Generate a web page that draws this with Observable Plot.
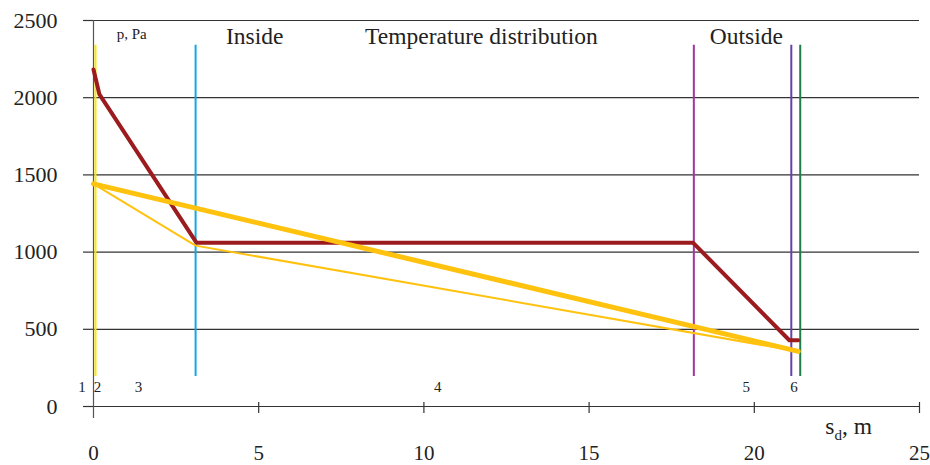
<!DOCTYPE html>
<html>
<head>
<meta charset="utf-8">
<script src="https://cdn.jsdelivr.net/npm/d3@7"></script>
<script src="https://cdn.jsdelivr.net/npm/@observablehq/plot@0.6"></script>
<style>
  html, body { margin: 0; padding: 0; background: #fff; }
  #chart svg { display: block; }
  #chart svg text { font-family: "Liberation Serif", "Times New Roman", serif !important; font-variant-numeric: normal !important; }
</style>
</head>
<body>
<div id="chart"></div>
<script>
// ---- data ----
const yTicks = [0, 500, 1000, 1500, 2000, 2500];
const xTicks = [0, 5, 10, 15, 20, 25];

// dark red profile
const redS = [0, 0.18, 3.12, 18.15, 21.06, 21.33];
const redP = [2183, 2021, 1060, 1060, 429, 429];

// thick yellow profile
const thickS = [0, 21.33];
const thickP = [1442, 357];

// thin yellow profile
const thinS = [0, 3.09, 21.33];
const thinP = [1442, 1042, 357];

// vertical boundary lines
const boundaryS = [0.06, 3.09, 18.17, 21.12, 21.39];
const boundaryColors = ["#ffe600", "#12a9e1", "#a2359e", "#6a3fa8", "#1f7d4b"];
const boundaryLow = 195, boundaryHigh = 2340;

// section numbers
const sectionNames = ["1", "2", "3", "4", "5", "6"];
const sectionS = [-0.35, 0.12, 1.36, 10.42, 19.76, 21.2];
const sectionP = 91;

// region labels
const regionNames = ["Inside", "Temperature distribution", "Outside"];
const regionS = [4.88, 11.74, 19.76];
const regionP = 2345;

const unitLabel = "p, Pa";
const unitS = 0.70, unitP = 2383;

const xLabelS = 22.15, xLabelP = -175;

// ---- build tables ----
const red = redS.map((s, i) => ({s, p: redP[i]}));
const thick = thickS.map((s, i) => ({s, p: thickP[i]}));
const thin = thinS.map((s, i) => ({s, p: thinP[i]}));
const bounds = boundaryS.map((s, i) => ({s, c: boundaryColors[i]}));
const sections = sectionNames.map((t, i) => ({t, s: sectionS[i]}));
const regions = regionNames.map((t, i) => ({t, s: regionS[i]}));

const font = "Liberation Serif, Times New Roman, serif";

const chart = Plot.plot({
  width: 930,
  height: 465,
  marginLeft: 93,
  marginRight: 11,
  marginTop: 20,
  marginBottom: 59,
  style: {fontFamily: font, fontSize: "22px", color: "#222", background: "#fff"},
  x: {domain: [0, 25], axis: null},
  y: {domain: [0, 2500], axis: null},
  marks: [
    Plot.gridY(yTicks, {stroke: "#333", strokeOpacity: 1, strokeWidth: 1.2}),
    Plot.axisY(yTicks, {tickSize: 10, tickPadding: 26, fontSize: 22, fontFamily: font, fontVariant: "normal", stroke: "#333", strokeWidth: 1.2, fill: "#222", label: null, tickFormat: d => String(d)}),
    Plot.ruleX([0], {y1: -78, y2: 2500, stroke: "#555", strokeWidth: 1.2}),
    Plot.ruleX(xTicks.filter(d => d > 0), {y1: 0, y2: 0, insetTop: -4, insetBottom: -7, stroke: "#333", strokeWidth: 1.2}),
    Plot.axisX(xTicks, {tickSize: 0, tickPadding: 39, fontSize: 21, fontFamily: font, fontVariant: "normal", fill: "#222", label: null, tickFormat: d => String(d)}),
    Plot.ruleX(bounds, {x: "s", y1: boundaryLow, y2: boundaryHigh, stroke: "c", strokeWidth: 2}),
    Plot.line(red, {x: "s", y: "p", stroke: "#9b1b1f", strokeWidth: 4}),
    Plot.line(thin, {x: "s", y: "p", stroke: "#ffc20e", strokeWidth: 2}),
    Plot.line(thick, {x: "s", y: "p", stroke: "#ffc20e", strokeWidth: 5}),
    Plot.text(regions, {x: "s", y: regionP, text: "t", fontSize: 23.5, lineAnchor: "bottom", fill: "#222"}),
    Plot.text([unitLabel], {x: unitS, y: unitP, text: d => d, fontSize: 15, textAnchor: "start", lineAnchor: "bottom", fill: "#222"}),
    Plot.text(sections, {x: "s", y: sectionP, text: "t", fontSize: 15, lineAnchor: "bottom", fill: "#222"}),
    Plot.text(["s_d, m"], {x: xLabelS, y: xLabelP, text: d => d, fontSize: 23.5, textAnchor: "start", lineAnchor: "bottom", fill: "#222"})
  ]
});

// render subscript in the x-axis label
d3.select(chart).selectAll("text").each(function() {
  if (this.textContent === "s_d, m") {
    const t = d3.select(this);
    t.text(null);
    t.append("tspan").text("s");
    t.append("tspan").attr("font-size", 15).attr("dy", 6).text("d");
    t.append("tspan").attr("dy", -6).text(", m");
  }
});
d3.select(chart).selectAll("text, g").attr("font-family", font).attr("font-variant", "normal");

document.getElementById("chart").appendChild(chart);
</script>
</body>
</html>
